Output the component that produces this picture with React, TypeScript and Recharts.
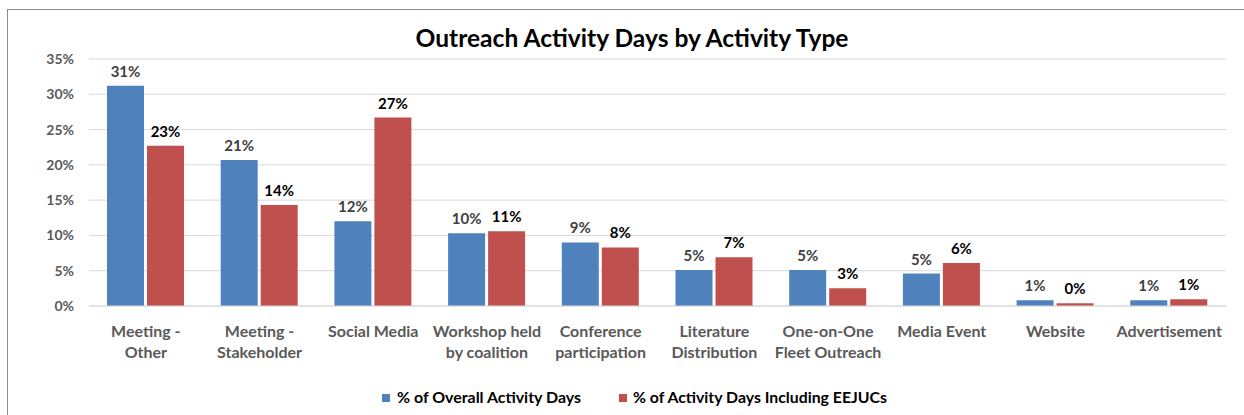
import React from 'react';
import { BarChart, Bar, XAxis, YAxis, CartesianGrid, LabelList } from 'recharts';

const categories = [
  'Meeting -\nOther',
  'Meeting -\nStakeholder',
  'Social Media',
  'Workshop held\nby coalition',
  'Conference\nparticipation',
  'Literature\nDistribution',
  'One-on-One\nFleet Outreach',
  'Media Event',
  'Website',
  'Advertisement',
];
const overall = [31.2, 20.7, 12.0, 10.3, 9.0, 5.1, 5.1, 4.6, 0.8, 0.8];
const eejuc = [22.7, 14.3, 26.7, 10.6, 8.3, 6.9, 2.5, 6.1, 0.4, 0.95];
const yTicks = [0, 5, 10, 15, 20, 25, 30, 35];

const data = categories.map((name, i) => ({ name, overall: overall[i], eejuc: eejuc[i] }));

const FONT = 'Lato, "Open Sans", sans-serif';

function CategoryTick(props: any) {
  const { x, y, payload } = props;
  const lines = String(payload.value).split('\n');
  return (
    <text x={x} y={y + 29} textAnchor="middle" fill="#595959" fontSize={16} fontWeight="bold" fontFamily={FONT}>
      {lines.map((l, i) => (
        <tspan key={i} x={x} dy={i === 0 ? 0 : 21}>{l}</tspan>
      ))}
    </text>
  );
}

export default function App() {
  return (
    <div style={{ position: 'absolute', left: 0, top: 0, width: 1244, height: 415, background: '#fff' }}>
      <div style={{ position: 'absolute', left: 7, top: 9, width: 1237, height: 406, borderTop: '1px solid #8c8c8c', borderLeft: '1px solid #8c8c8c' }} />
      <BarChart
        width={1244}
        height={415}
        data={data}
        margin={{ top: 59, right: 18, left: 9, bottom: 49 }}
        barSize={37}
        barGap={3}
        style={{ position: 'absolute', left: 0, top: 0 }}
      >
        <CartesianGrid vertical={false} stroke="#d9d9d9" />
        <XAxis
          dataKey="name"
          height={60}
          tickLine={false}
          tickSize={0}
          axisLine={{ stroke: '#d9d9d9' }}
          interval={0}
          tick={<CategoryTick />}
        />
        <YAxis
          width={80}
          domain={[0, 35]}
          ticks={yTicks}
          tickFormatter={(v) => `${v}%`}
          axisLine={false}
          tickLine={false}
          tickSize={0}
          tickMargin={15}
          tick={{ fill: '#595959', fontSize: 14, fontWeight: 'bold', fontFamily: FONT }}
        />
        <Bar dataKey="overall" fill="#4f81bd" isAnimationActive={false}>
          <LabelList
            dataKey="overall"
            position="top"
            offset={9}
            formatter={(v: any) => `${Math.round(Number(v))}%`}
            style={{ fill: '#404040', fontSize: 15, fontWeight: 'bold', fontFamily: FONT }}
          />
        </Bar>
        <Bar dataKey="eejuc" fill="#c0504d" isAnimationActive={false}>
          <LabelList
            dataKey="eejuc"
            position="top"
            offset={9}
            formatter={(v: any) => `${Math.round(Number(v))}%`}
            style={{ fill: '#000', fontSize: 15, fontWeight: 'bold', fontFamily: FONT }}
          />
        </Bar>
      </BarChart>
      <svg width={1244} height={415} style={{ position: 'absolute', left: 0, top: 0, pointerEvents: 'none' }}>
        <text x={632} y={47} textAnchor="middle" fontSize={25} fontWeight="bold" fontFamily={FONT} fill="#000" textLength={433} lengthAdjust="spacingAndGlyphs">
          Outreach Activity Days by Activity Type
        </text>
        <rect x={382} y={394} width={8} height={8} fill="#4f81bd" />
        <text x={397} y={403} fontSize={15.5} fontWeight="bold" fontFamily={FONT} fill="#000" textLength={184} lengthAdjust="spacingAndGlyphs">
          % of Overall Activity Days
        </text>
        <rect x={619} y={394} width={8} height={8} fill="#c0504d" />
        <text x={633} y={403} fontSize={15.5} fontWeight="bold" fontFamily={FONT} fill="#000" textLength={254} lengthAdjust="spacingAndGlyphs">
          % of Activity Days Including EEJUCs
        </text>
      </svg>
    </div>
  );
}
